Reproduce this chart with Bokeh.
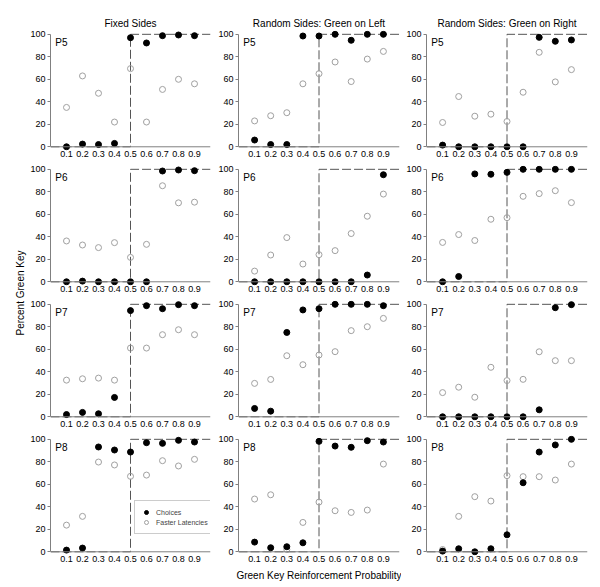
import math
from bokeh.plotting import figure
from bokeh.models import Range1d, FixedTicker, Label, Legend, LegendItem, Span
from bokeh.layouts import row, column
from bokeh.embed import file_html
from bokeh.resources import INLINE

# ---------------- data ----------------
probs = [0.1, 0.2, 0.3, 0.4, 0.5, 0.6, 0.7, 0.8, 0.9]
y_ticks = [0, 20, 40, 60, 80, 100]
col_titles = ["Fixed Sides", "Random Sides: Green on Left", "Random Sides: Green on Right"]
subjects = ["P5", "P6", "P7", "P8"]

# criterion (step) line
crit_x = [0.0, 0.5, 0.5, 1.0]
crit_y = [0, 0, 100, 100]

fixed_p5_choices = [0, 2.4, 2, 3, 97, 92.3, 98.8, 99.4, 98.8]
fixed_p5_latency = [35, 63, 47.6, 22, 69.5, 22, 51, 60, 56]
left_p5_choices = [6, 2, 2, 98.5, 98.5, 100, 94.7, 100, 100]
left_p5_latency = [23, 27.6, 30.3, 56, 65, 75.4, 58, 78, 84.8]
right_p5_choices = [1.5, 0, 0, 0, 0, 0, 97.3, 93.8, 95]
right_p5_latency = [21.6, 44.7, 27.2, 29, 22.5, 48.5, 84, 57.7, 68.6]

fixed_p6_choices = [0, 0.6, 0, 0, 0, 0, 98.5, 99.4, 98.8]
fixed_p6_latency = [36.3, 32.7, 30.4, 34.8, 21.7, 33.3, 85.4, 70.2, 70.8]
left_p6_choices = [0, 0, 0, 0, 0, 0, 0, 6, 95.2]
left_p6_latency = [9.5, 23.8, 39.3, 15.8, 24.1, 27.7, 42.9, 58.3, 78]
right_p6_choices = [0, 4.7, 95.9, 95.6, 97.3, 100, 100, 100, 100]
right_p6_latency = [35, 42, 36.7, 55.6, 57, 76, 78.4, 81, 70.4]

fixed_p7_choices = [2, 3.9, 2.7, 17.2, 94.4, 98.8, 96.1, 99.7, 98.8]
fixed_p7_latency = [32.6, 33.8, 34.4, 32.6, 61.1, 61.1, 73, 77.4, 73]
left_p7_choices = [7.4, 5, 75, 95, 96.1, 100, 100, 100, 98.8]
left_p7_latency = [29.7, 33.2, 54.3, 46.3, 54.9, 57.9, 76.6, 80.1, 87.5]
right_p7_choices = [0, 0, 0, 0, 0, 0, 6.2, 97, 99.7]
right_p7_latency = [21.5, 26.3, 17.4, 44, 32.2, 33.3, 57.8, 49.9, 49.9]

fixed_p8_choices = [1.5, 3.3, 93.2, 90.5, 88.7, 97, 96.4, 99.1, 97.6]
fixed_p8_latency = [23.7, 31.5, 79.8, 77.2, 67.1, 68.2, 81, 76.3, 82.2]
left_p8_choices = [8.6, 3.6, 4.5, 8, 98.2, 94, 92.9, 98.8, 97.6]
left_p8_latency = [46.9, 50.7, 2, 26.1, 44.2, 36.5, 35, 37.1, 78]
right_p8_choices = [0.6, 2.7, 0, 2.7, 15.1, 61.4, 88.7, 95, 100]
right_p8_latency = [2, 31.5, 49, 45.1, 67.7, 66.8, 66.8, 63.8, 78]

grid_data = [
    [(fixed_p5_choices, fixed_p5_latency), (left_p5_choices, left_p5_latency), (right_p5_choices, right_p5_latency)],
    [(fixed_p6_choices, fixed_p6_latency), (left_p6_choices, left_p6_latency), (right_p6_choices, right_p6_latency)],
    [(fixed_p7_choices, fixed_p7_latency), (left_p7_choices, left_p7_latency), (right_p7_choices, right_p7_latency)],
    [(fixed_p8_choices, fixed_p8_latency), (left_p8_choices, left_p8_latency), (right_p8_choices, right_p8_latency)],
]

# ---------------- styling ----------------
FONT = "Liberation Sans"
AXIS_COLOR = "#808080"
frame_w = [160, 161, 161]
border_l = [20, 25, 25]
border_r = [3, 2, 14]
FRAME_H = 120
LEFT_W = 27


def make_panel(ri, ci):
    choices, latency = grid_data[ri][ci]
    kw = dict(
        frame_width=frame_w[ci], frame_height=FRAME_H,
        x_range=Range1d(0, 1.0), y_range=Range1d(-3.3, 103.4),
        toolbar_location=None, output_backend="svg",
        min_border_left=border_l[ci], min_border_right=border_r[ci],
        min_border_top=30 if ri == 0 else 0,
        min_border_bottom=30 if ri == 3 else 15,
    )
    kw["title"] = col_titles[ci] if ri == 0 else None
    p = figure(**kw)
    if ri == 0:
        p.title.align = "center"
        p.title.text_font = FONT
        p.title.text_font_size = "10px"
        p.title.text_font_style = "normal"
        p.title.text_color = "black"
        p.title.standoff = 4
    p.outline_line_color = None
    p.xgrid.visible = False
    p.ygrid.visible = False
    p.background_fill_color = None
    p.border_fill_color = None

    xa = p.xaxis[0]
    xa.ticker = FixedTicker(ticks=probs)
    xa.major_tick_out = 0
    xa.major_tick_in = 0
    xa.minor_tick_line_color = None
    xa.major_tick_line_color = None
    xa.axis_line_color = None
    xa.major_label_text_font = FONT
    xa.major_label_text_font_size = "9px"
    xa.major_label_text_color = "black"
    xa.major_label_standoff = 0

    ya = p.yaxis[0]
    ya.ticker = FixedTicker(ticks=y_ticks)
    ya.bounds = (0, 100)
    ya.major_tick_out = 3
    ya.major_tick_in = 0
    ya.minor_tick_line_color = None
    ya.axis_line_color = AXIS_COLOR
    ya.major_tick_line_color = AXIS_COLOR
    ya.major_label_text_font = FONT
    ya.major_label_text_font_size = "9px"
    ya.major_label_text_color = "black"
    ya.major_label_standoff = 2

    if ri == 3 and ci == 1:
        xa.axis_label = "Green Key Reinforcement Probability"
        xa.axis_label_text_font = FONT
        xa.axis_label_text_font_size = "10px"
        xa.axis_label_text_font_style = "normal"
        xa.axis_label_text_color = "black"
        xa.axis_label_standoff = 5

    # x axis line drawn at y = 0
    p.add_layout(Span(location=0, dimension="width", line_color=AXIS_COLOR, line_width=1))

    p.line(crit_x, crit_y, line_color="#555555", line_width=1, line_dash="9 3")
    r_lat = p.scatter(probs, latency, size=6, marker="circle",
                      fill_color=None, line_color="#a0a0a0", line_width=1)
    r_ch = p.scatter(probs, choices, size=6, marker="circle",
                     fill_color="black", line_color="black")

    p.add_layout(Label(x=0.03, y=98, text=subjects[ri], text_baseline="top",
                       text_font=FONT, text_font_size="10px", text_color="black"))

    if ri == 3 and ci == 0:
        legend = Legend(
            items=[LegendItem(label="Choices", renderers=[r_ch]),
                   LegendItem(label="Faster Latencies", renderers=[r_lat])],
            location=(84, 21), orientation="vertical",
            label_text_font=FONT, label_text_font_size="7px",
            glyph_width=10, glyph_height=10, label_height=10, label_standoff=5,
            spacing=0, padding=6, margin=0,
            border_line_color="#999999", border_line_width=1,
            background_fill_color="white", background_fill_alpha=1.0,
        )
        p.add_layout(legend)
    return p


rows = []
for ri in range(4):
    rows.append(row(*[make_panel(ri, ci) for ci in range(3)]))

left = figure(width=LEFT_W, height=585, x_range=Range1d(0, 1), y_range=Range1d(0, 1),
              x_axis_type=None, y_axis_type=None, toolbar_location=None,
              output_backend="svg", min_border=0, title=None)
left.outline_line_color = None
left.xgrid.visible = False
left.ygrid.visible = False
left.add_layout(Label(x=20 / LEFT_W, y=0.5, text="Percent Green Key", angle=math.pi / 2,
                      text_align="center", text_baseline="middle",
                      text_font=FONT, text_font_size="10px", text_color="black"))

layout = row(left, column(*rows))

open("out.html", "w").write(file_html(layout, INLINE))
